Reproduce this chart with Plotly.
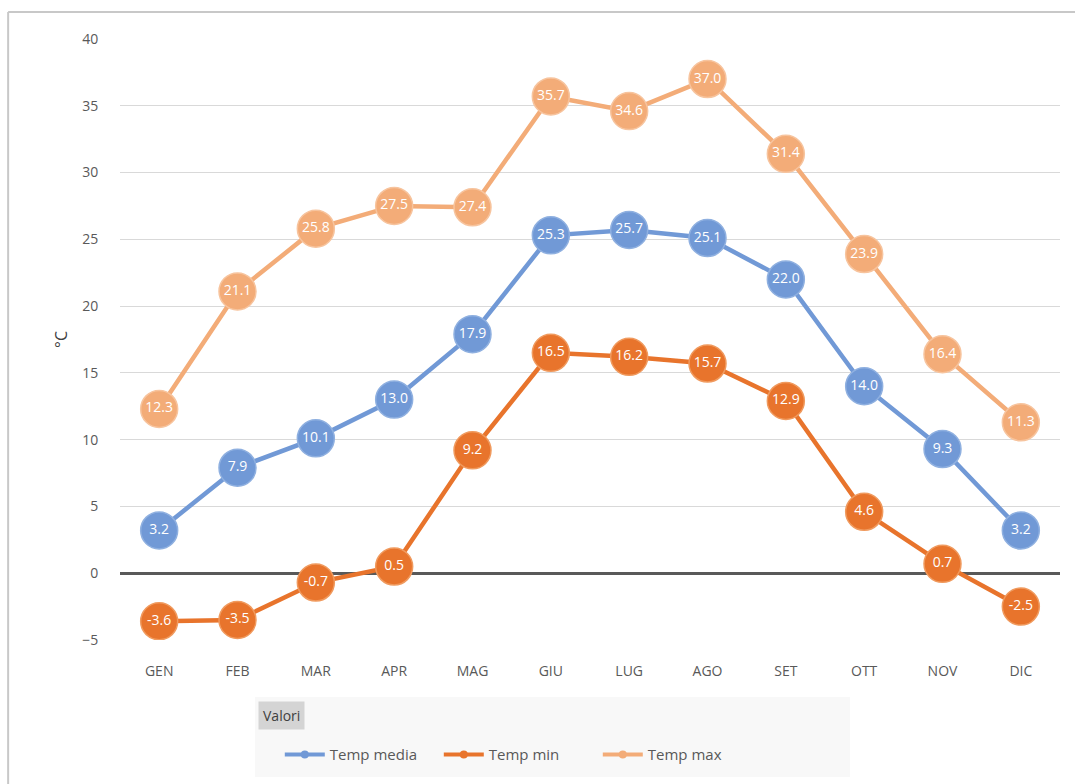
import plotly.graph_objects as go

months = ["GEN", "FEB", "MAR", "APR", "MAG", "GIU", "LUG", "AGO", "SET", "OTT", "NOV", "DIC"]
temp_media = [3.2, 7.9, 10.1, 13.0, 17.9, 25.3, 25.7, 25.1, 22.0, 14.0, 9.3, 3.2]
temp_min = [-3.6, -3.5, -0.7, 0.5, 9.2, 16.5, 16.2, 15.7, 12.9, 4.6, 0.7, -2.5]
temp_max = [12.3, 21.1, 25.8, 27.5, 27.4, 35.7, 34.6, 37.0, 31.4, 23.9, 16.4, 11.3]
y_ticks = [-5, 0, 5, 10, 15, 20, 25, 30, 35, 40]

series = [
    ("Temp media", temp_media, "#7199D6", "#8FB0E0"),
    ("Temp min", temp_min, "#E8742C", "#F09A5E"),
    ("Temp max", temp_max, "#F3AC78", "#F7C49E"),
]

FONT = "Open Sans"
fig = go.Figure()
for name, vals, col, edge in series:
    fig.add_trace(go.Scatter(
        x=months, y=vals, mode="lines+markers+text", name=name,
        line=dict(color=col, width=4.5),
        marker=dict(size=37, color=col, line=dict(color=edge, width=1.5)),
        text=[f"{v:.1f}" for v in vals], textposition="middle center",
        textfont=dict(color="white", size=14, family=FONT),
        showlegend=False, hoverinfo="skip",
    ))
# legend entries with small markers
for name, vals, col, edge in series:
    fig.add_trace(go.Scatter(
        x=[None], y=[None], mode="lines+markers", name=name,
        line=dict(color=col, width=4),
        marker=dict(size=8, color=col),
    ))

fig.update_layout(
    width=1075, height=784,
    margin=dict(l=120, r=15, t=39, b=144),
    paper_bgcolor="white", plot_bgcolor="white",
    font=dict(family=FONT, color="#595959", size=14),
    xaxis=dict(range=[-0.5, 11.5], showgrid=False, zeroline=False,
               tickfont=dict(size=14, color="#595959"),
               ticks="outside", ticklen=18, tickcolor="rgba(0,0,0,0)",
               showline=False),
    yaxis=dict(range=[-5, 40], tickvals=y_ticks, showgrid=True,
               gridcolor="#D9D9D9", gridwidth=1,
               zeroline=True, zerolinecolor="#595959", zerolinewidth=2.5,
               ticks="outside", ticklen=18, tickcolor="rgba(0,0,0,0)",
               tickfont=dict(size=14, color="#595959"),
               title=dict(text="°C", font=dict(size=16, color="#404040"), standoff=10)),
    legend=dict(orientation="h", x=0.170, y=-0.191, xanchor="left", yanchor="middle",
                font=dict(size=15, color="#595959"), itemwidth=40, entrywidth=104,
                bgcolor="rgba(0,0,0,0)", traceorder="normal"),
    shapes=[
        # chart border (left and top)
        dict(type="line", xref="paper", yref="paper", x0=-0.119, x1=-0.119, y0=-0.24, y1=1.0449,
             line=dict(color="#C8C8C8", width=2)),
        dict(type="line", xref="paper", yref="paper", x0=-0.119, x1=1.02, y0=1.0449, y1=1.0449,
             line=dict(color="#C8C8C8", width=2)),
        # legend field area
        dict(type="rect", xref="paper", yref="paper", x0=0.1436, x1=0.7766, y0=-0.228, y1=-0.0948,
             fillcolor="#F8F8F8", line=dict(width=0), layer="below"),
    ],
    annotations=[
        dict(text="Valori", xref="paper", yref="paper", x=0.1468, y=-0.1248,
             xanchor="left", yanchor="middle", showarrow=False,
             bgcolor="#D4D4D4", borderpad=4, font=dict(size=14, color="#404040")),
    ],
)

fig.write_html("out.html")
